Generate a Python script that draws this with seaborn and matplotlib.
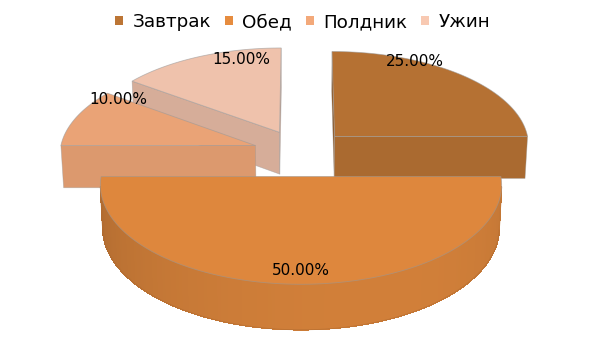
import numpy as np
import matplotlib
matplotlib.use("Agg")
import matplotlib.pyplot as plt
import matplotlib.colors as mcolors
from matplotlib.patches import Polygon, Patch
import seaborn as sns

# ---- data -------------------------------------------------------------
categories = ["Завтрак", "Обед", "Полдник", "Ужин"]
shares = [25.0, 50.0, 10.0, 15.0]
value_labels = ["25.00%", "50.00%", "10.00%", "15.00%"]
palette_hex = ["#BC7535", "#E68C3F", "#F3A97A", "#F8C9B2"]

# where each percentage label sits: radius (fraction of pie radius)
# and angular offset from the slice bisector, in degrees
label_radius = [0.99, 0.886, 0.91, 0.888]
label_shift = [-17.5, 0.0, 16.8, 12.5]

# ---- style ------------------------------------------------------------
sns.set_theme(style="white")
plt.rcParams["font.family"] = ["DejaVu Sans"]
palette = sns.color_palette(palette_hex)

W, H = 605, 340
fig = plt.figure(figsize=(W / 100, H / 100), dpi=100)
ax = fig.add_axes([0, 0, 1, 1])
ax.set_xlim(0, W)
ax.set_ylim(H, 0)
ax.axis("off")

# ---- perspective camera for the 3-D pie --------------------------------
FOCAL, DIST, TILT = 2056.0, 10.5, np.radians(28.9)
OX, OY = 301.0, 152.7
THICK, EXPLODE = 0.25, 0.246
sT, cT = np.sin(TILT), np.cos(TILT)
camera = np.array([0.0, -DIST * cT, DIST * sT])


def project(P):
    P = np.atleast_2d(P)
    X, Y, Z = P[:, 0], P[:, 1], P[:, 2]
    depth = DIST + Y * cT - Z * sT
    return np.column_stack([OX + FOCAL * X / depth,
                            OY - FOCAL * (Y * sT + Z * cT) / depth])


def direction(deg):
    a = np.radians(deg)
    return np.array([np.sin(a), np.cos(a), 0.0])


def shade(color, factor):
    r, g, b = mcolors.to_rgb(color)
    return (min(r * factor, 1), min(g * factor, 1), min(b * factor, 1))


def side_factor(normal_deg):
    return 0.80 + 0.11 * np.cos(np.radians(normal_deg - 160.0))


fracs = np.array(shares) / np.sum(shares)
ends = np.cumsum(fracs) * 360.0
starts = ends - fracs * 360.0

slices = []
for i in range(len(shares)):
    mid = 0.5 * (starts[i] + ends[i])
    center = EXPLODE * direction(mid)
    slices.append((center[1], i, center, starts[i], ends[i], mid))

up = np.array([0.0, 0.0, 0.0])
down = np.array([0.0, 0.0, -THICK])

# back-most slice first
for _, i, center, a0, a1, mid in sorted(slices, key=lambda s: -s[0]):
    base = palette[i]

    # outer curved wall, split in 1-degree strips
    angs = np.linspace(a0, a1, int(np.ceil(a1 - a0)) + 1)
    wall = []
    for u, v in zip(angs[:-1], angs[1:]):
        m = 0.5 * (u + v)
        n = direction(m)
        pm = center + n
        if np.dot(n, camera - pm) <= 0:
            continue
        quad = np.array([center + direction(u) + up, center + direction(v) + up,
                         center + direction(v) + down, center + direction(u) + down])
        col = shade(base, side_factor(m))
        ax.add_patch(Polygon(project(quad), closed=True, facecolor=col,
                             edgecolor=col, linewidth=0.35, antialiased=False,
                             zorder=2))
        wall.append((u, v))
    if wall:
        # smooth silhouette of the wall
        w0, w1 = wall[0][0], wall[-1][1]
        wa = np.linspace(w0, w1, 200)
        outline = np.array([center + direction(a) + down for a in wa])
        ax.plot(*project(outline).T, color=shade(base, 0.75), lw=0.6,
                alpha=0.6, zorder=2.5)
        for a in (w0, w1):
            seg = np.array([center + direction(a) + up, center + direction(a) + down])
            ax.plot(*project(seg).T, color=shade(base, side_factor(a)), lw=0.8,
                    zorder=2.4)

    # flat cut faces
    for edge_ang, n_ang in ((a0, a0 - 90.0), (a1, a1 + 90.0)):
        n = direction(n_ang)
        if np.dot(n, camera - center) <= 0:
            continue
        quad = np.array([center + up, center + direction(edge_ang) + up,
                         center + direction(edge_ang) + down, center + down])
        col = shade(base, side_factor(n_ang % 360))
        ax.add_patch(Polygon(project(quad), closed=True, facecolor=col,
                             edgecolor=(0.6, 0.6, 0.6, 0.5), linewidth=0.5,
                             zorder=2))

    # top face
    arc = np.array([center + direction(a) for a in np.linspace(a0, a1, 120)])
    top = np.vstack([center, arc])
    ax.add_patch(Polygon(project(top), closed=True, facecolor=shade(base, 0.965),
                         edgecolor=(0.6, 0.6, 0.6, 0.6), linewidth=0.6, zorder=3))

    # percentage label
    la = mid + label_shift[i]
    lp = project(center + label_radius[i] * direction(la))[0]
    ax.text(lp[0], lp[1], value_labels[i], ha="center", va="center",
            fontsize=11, color="black", zorder=5)

# ---- legend -----------------------------------------------------------
handles = [Patch(facecolor=c, edgecolor="none") for c in palette]
leg = fig.legend(handles, categories, loc="center",
                 bbox_to_anchor=(0.5, 1 - 22 / H), ncol=4, frameon=False,
                 fontsize=13.2, handlelength=0.45, handleheight=0.45,
                 handletextpad=0.5, columnspacing=0.75, borderaxespad=0)
for txt in leg.get_texts():
    txt.set_color("black")

fig.savefig("out.png", dpi=100)
